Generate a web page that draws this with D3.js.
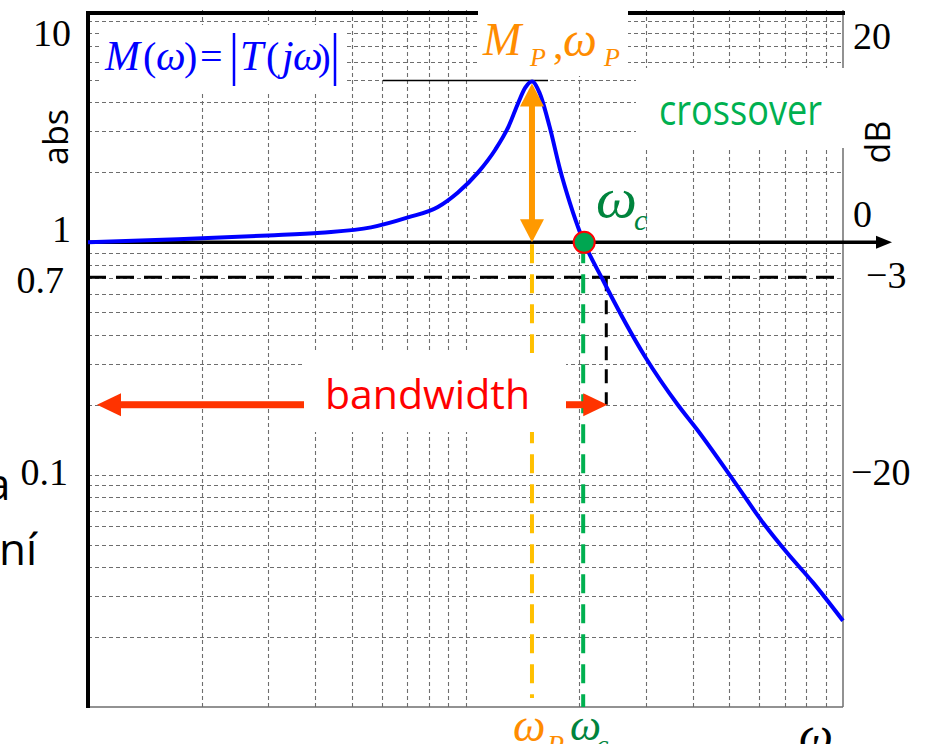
<!DOCTYPE html>
<html>
<head>
<meta charset="utf-8">
<script src="https://cdn.jsdelivr.net/npm/d3@7"></script>
<style>
  body { margin: 0; background: #fff; }
</style>
</head>
<body>
<script>
// |T(jw)|
var omega     = [1, 1.73, 3.0, 4.14, 5.62, 7.04, 8.45, 9.55, 10.8, 12.0, 13.0, 13.8, 14.4, 15.0,
                 15.7, 16.7, 17.8, 18.9, 20.3, 23.1, 29.9, 36.5, 41.1, 51.1, 61.4, 71.1, 83.3, 100];
var magnitude = [1.0, 1.03, 1.07, 1.10, 1.16, 1.28, 1.42, 1.64, 2.0, 2.51, 3.15, 3.99, 4.63, 4.92,
                 4.41, 3.15, 2.06, 1.48, 1.06, 0.69, 0.322, 0.20, 0.156, 0.0952, 0.0621, 0.0461, 0.0343, 0.0235];

var absTicks  = [10, 1, 0.7, 0.1];
var absLabels = ['10', '1', '0.7', '0.1'];
var dbTicks   = [20, 0, -3, -20];
var dbLabels  = ['20', '0', '\u22123', '\u221220'];

var omegaP = 15, peakM = 4.92;
var omegaC = 20.5;
var omegaBW = 23.6, halfPower = 0.707, bwLevel = 0.2;

var width = 928, height = 744;
var grid_color = '#6e6e6e';
var serif = '"Liberation Serif", "Times New Roman", serif';
var sans = '"Open Sans", "Noto Sans", sans-serif';

var svg = d3.select('body').append('svg')
  .attr('width', width)
  .attr('height', height);

svg.append('rect').attr('width', width).attr('height', height).attr('fill', '#fff');

var x = d3.scaleLog().domain([1, 100]).range([88, 843]);
var y = d3.scaleLog().domain([0.01, 10]).range([707, 10]);

// dashed log grid
var grid = svg.append('g')
  .attr('stroke', grid_color)
  .attr('stroke-width', 1.1)
  .attr('stroke-dasharray', '4 3');

grid.selectAll('line.h')
  .data(y.ticks().filter(function(d) { return d > 0.0101 && d < 9.99; }))
  .enter().append('line')
  .attr('x1', x(1)).attr('x2', x(100))
  .attr('y1', function(d) { return Math.round(y(d)) + 0.5; })
  .attr('y2', function(d) { return Math.round(y(d)) + 0.5; });

grid.selectAll('line.v')
  .data(x.ticks().filter(function(d) { return d > 1.01 && d < 99; }))
  .enter().append('line')
  .attr('y1', y(10)).attr('y2', y(0.01))
  .attr('x1', function(d) { return Math.round(x(d)) + 0.5; })
  .attr('x2', function(d) { return Math.round(x(d)) + 0.5; });

// frame
svg.append('line').attr('x1', x(100)).attr('x2', x(100)).attr('y1', y(10)).attr('y2', y(0.01))
  .attr('stroke', grid_color).attr('stroke-width', 1.5);
svg.append('line').attr('x1', x(1)).attr('x2', x(100)).attr('y1', y(0.01)).attr('y2', y(0.01))
  .attr('stroke', grid_color).attr('stroke-width', 1.5);
svg.append('line').attr('x1', x(1) - 2).attr('x2', x(100) + 2).attr('y1', y(10) + 3).attr('y2', y(10) + 3)
  .attr('stroke', '#000').attr('stroke-width', 4);
svg.append('line').attr('x1', x(1)).attr('x2', x(1)).attr('y1', y(10) + 1).attr('y2', y(0.01) + 1)
  .attr('stroke', '#000').attr('stroke-width', 4);

// 0 dB axis with arrow
svg.append('line').attr('x1', x(1)).attr('x2', 880).attr('y1', y(1)).attr('y2', y(1))
  .attr('stroke', '#000').attr('stroke-width', 3.5);
svg.append('path')
  .attr('d', 'M876,' + (y(1) - 6.5) + 'L892,' + y(1) + 'L876,' + (y(1) + 6.5) + 'Z')
  .attr('fill', '#000');

// -3 dB line and bandwidth drop
svg.append('line').attr('x1', x(1)).attr('x2', x(100)).attr('y1', y(halfPower)).attr('y2', y(halfPower))
  .attr('stroke', '#000').attr('stroke-width', 3).attr('stroke-dasharray', '18 10');
svg.append('line').attr('x1', x(omegaBW)).attr('x2', x(omegaBW)).attr('y1', y(halfPower)).attr('y2', y(bwLevel))
  .attr('stroke', '#000').attr('stroke-width', 3).attr('stroke-dasharray', '14 9');

// peak and crossover drops
svg.append('line').attr('x1', x(omegaP)).attr('x2', x(omegaP)).attr('y1', y(1) + 2).attr('y2', 698)
  .attr('stroke', '#ffc000').attr('stroke-width', 4).attr('stroke-dasharray', '19 11');
svg.append('line').attr('x1', x(omegaC)).attr('x2', x(omegaC)).attr('y1', y(1) + 2).attr('y2', y(0.01))
  .attr('stroke', '#00b050').attr('stroke-width', 4).attr('stroke-dasharray', '19 11');

// Mp level line
svg.append('line').attr('x1', 383).attr('x2', 548).attr('y1', y(peakM) - 1).attr('y2', y(peakM) - 1)
  .attr('stroke', '#000').attr('stroke-width', 1.5);

function hArrow(x0, x1, yy, color, shaft, hl, hw) {
  var g = svg.append('g').attr('fill', color);
  g.append('rect').attr('x', x0 + hl - 1).attr('y', yy - shaft / 2)
    .attr('width', x1 - x0 - 2 * hl + 2).attr('height', shaft);
  g.append('path').attr('d', 'M' + x0 + ',' + yy + 'L' + (x0 + hl) + ',' + (yy - hw / 2) + 'L' + (x0 + hl) + ',' + (yy + hw / 2) + 'Z');
  g.append('path').attr('d', 'M' + x1 + ',' + yy + 'L' + (x1 - hl) + ',' + (yy - hw / 2) + 'L' + (x1 - hl) + ',' + (yy + hw / 2) + 'Z');
}
function vArrow(xx, y0, y1, color, shaft, hl, hw) {
  var g = svg.append('g').attr('fill', color);
  g.append('rect').attr('x', xx - shaft / 2).attr('y', y0 + hl - 1)
    .attr('width', shaft).attr('height', y1 - y0 - 2 * hl + 2);
  g.append('path').attr('d', 'M' + xx + ',' + y0 + 'L' + (xx - hw / 2) + ',' + (y0 + hl) + 'L' + (xx + hw / 2) + ',' + (y0 + hl) + 'Z');
  g.append('path').attr('d', 'M' + xx + ',' + y1 + 'L' + (xx - hw / 2) + ',' + (y1 - hl) + 'L' + (xx + hw / 2) + ',' + (y1 - hl) + 'Z');
}

// bandwidth double arrow
hArrow(x(1) + 9, x(omegaBW) + 1, y(bwLevel), '#ff3300', 7, 24, 23);

// the curve
var line = d3.line()
  .x(function(d, i) { return x(omega[i]); })
  .y(function(d) { return y(d); })
  .curve(d3.curveMonotoneX);

svg.append('path')
  .datum(magnitude)
  .attr('d', line)
  .attr('fill', 'none')
  .attr('stroke', '#0000ff')
  .attr('stroke-width', 4)
  .attr('stroke-linejoin', 'round');

vArrow(x(omegaP), y(peakM) + 2, y(1), '#ff9900', 6, 23, 24);

svg.append('circle')
  .attr('cx', x(omegaC) + 1).attr('cy', y(1))
  .attr('r', 10.5)
  .attr('fill', '#00a651')
  .attr('stroke', '#ff0000')
  .attr('stroke-width', 2);

// white label boxes pasted over the grid
var boxes = [[100, 25, 246, 69], [478, 0, 150, 76], [636, 68, 230, 80], [304, 353, 262, 79]];
svg.selectAll('rect.box')
  .data(boxes)
  .enter().append('rect')
  .attr('class', 'box')
  .attr('x', function(d) { return d[0]; })
  .attr('y', function(d) { return d[1]; })
  .attr('width', function(d) { return d[2]; })
  .attr('height', function(d) { return d[3]; })
  .attr('fill', '#fff');

// tick labels
var leftDy = [36, 0, 15, 10];
var leftX = [71, 71, 64, 68];
svg.selectAll('text.left')
  .data(absTicks)
  .enter().append('text')
  .attr('x', function(d, i) { return leftX[i]; })
  .attr('y', function(d, i) { return y(d) + leftDy[i]; })
  .attr('text-anchor', 'end')
  .attr('font-family', serif)
  .attr('font-size', 38)
  .text(function(d, i) { return absLabels[i]; });

var rightDy = [39, -15, 11, 10];
var rightX = [853, 853, 866, 851];
svg.selectAll('text.right')
  .data(dbTicks)
  .enter().append('text')
  .attr('x', function(d, i) { return rightX[i]; })
  .attr('y', function(d, i) { return y(Math.pow(10, d / 20)) + rightDy[i]; })
  .attr('font-family', serif)
  .attr('font-size', 38)
  .text(function(d, i) { return dbLabels[i]; });

svg.append('text')
  .attr('transform', 'translate(68,137) rotate(-90)')
  .attr('text-anchor', 'middle')
  .attr('font-family', sans).attr('font-size', 34)
  .text('abs');
svg.append('text')
  .attr('transform', 'translate(890,142) rotate(-90)')
  .attr('text-anchor', 'middle')
  .attr('font-family', sans).attr('font-size', 34)
  .text('dB');

// math pieces: [text, x, y, size, italic]
function mathText(pieces, color) {
  svg.append('g').selectAll('text')
    .data(pieces)
    .enter().append('text')
    .attr('x', function(d) { return d[1]; })
    .attr('y', function(d) { return d[2]; })
    .attr('font-size', function(d) { return d[3]; })
    .attr('font-style', function(d) { return d[4] ? 'italic' : 'normal'; })
    .attr('font-family', serif)
    .attr('fill', color)
    .text(function(d) { return d[0]; });
}

mathText([
  ['M', 105, 70, 42, true], ['(', 143, 70, 40, false], ['\u03c9', 156, 70, 42, true],
  [')', 184, 70, 40, false], ['=', 200, 70, 40, false], ['T', 240, 70, 42, true],
  ['(', 266, 70, 40, false], ['j', 282, 70, 42, true], ['\u03c9', 293, 70, 42, true],
  [')', 318, 70, 38, false]
], '#0000ff');
svg.append('line').attr('x1', 234).attr('x2', 234).attr('y1', 33).attr('y2', 86)
  .attr('stroke', '#0000ff').attr('stroke-width', 2.5);
svg.append('line').attr('x1', 335).attr('x2', 335).attr('y1', 33).attr('y2', 86)
  .attr('stroke', '#0000ff').attr('stroke-width', 2.5);

mathText([
  ['M', 483, 55, 46, true], ['P', 530, 66, 26, true], [',', 553, 58, 42, false],
  ['\u03c9', 563, 56, 48, true], ['P', 604, 66, 26, true]
], '#ff8c00');

mathText([['\u03c9', 596, 217, 58, true], ['c', 634, 230, 30, true]], '#00843d');

mathText([['\u03c9', 513, 741, 46, true], ['P', 547, 754, 28, true]], '#ff8c00');
mathText([['\u03c9', 570, 740, 44, true], ['c', 596, 754, 28, true]], '#00843d');
mathText([['\u03c9', 799, 751, 48, true]], '#000');

// labels
svg.append('text')
  .attr('x', 325).attr('y', 409)
  .attr('font-family', sans).attr('font-size', 41)
  .attr('fill', '#ff0000')
  .text('bandwidth');

svg.append('text')
  .attr('x', 659).attr('y', 125)
  .attr('font-family', sans).attr('font-size', 42)
  .attr('textLength', 163).attr('lengthAdjust', 'spacingAndGlyphs')
  .attr('fill', '#00b050')
  .text('crossover');

// cut-off slide text on the left edge
svg.append('text').attr('x', -14).attr('y', 500)
  .attr('font-family', sans).attr('font-size', 44).text('a');
svg.append('text').attr('x', -1).attr('y', 565)
  .attr('font-family', sans).attr('font-size', 44).text('n\u00ed');
</script>
</body>
</html>
